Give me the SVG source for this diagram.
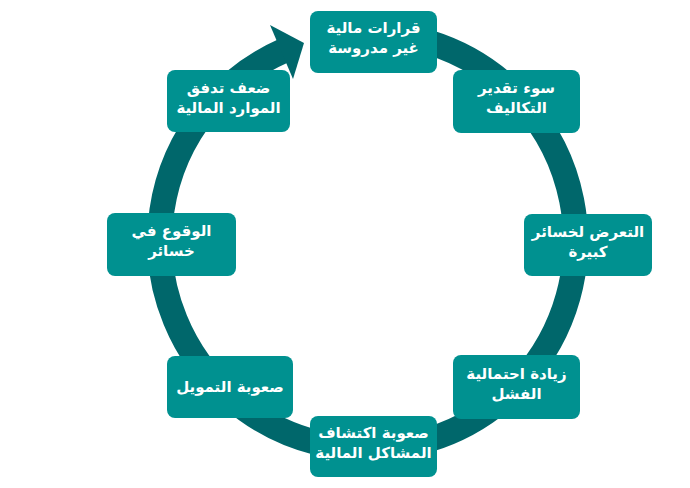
<svg xmlns="http://www.w3.org/2000/svg" width="690" height="488" viewBox="0 0 690 488">
<style>
.ring{fill:none;stroke:#00676B;stroke-width:25;}
.head{fill:#00676B;}
.box{fill:#009190;}
.t{fill:#fff;font-family:"DejaVu Sans","Liberation Sans",sans-serif;font-weight:bold;font-size:15px;text-anchor:middle;direction:rtl;}
</style>
<rect width="690" height="488" fill="#fff"/>
<g id="connectors">
<path class="ring" d="M 333 35.9 A 208 208 0 1 1 283 51"/>
<polygon class="head" points="270,25 304,43 293,79"/>
</g>
<g id="n1"><rect class="box" x="310" y="11" width="127" height="62" rx="8"/><text class="t" x="373.5" y="33">قرارات مالية</text><text class="t" x="373.5" y="53">غير مدروسة</text></g>
<g id="n2"><rect class="box" x="453" y="70" width="127" height="63" rx="8"/><text class="t" x="516.5" y="93">سوء تقدير</text><text class="t" x="516.5" y="113">التكاليف</text></g>
<g id="n3"><rect class="box" x="524" y="214" width="128" height="62" rx="8"/><text class="t" x="588" y="237">التعرض لخسائر</text><text class="t" x="588" y="257">كبيرة</text></g>
<g id="n4"><rect class="box" x="453" y="355" width="127" height="64" rx="8"/><text class="t" x="516.5" y="379">زيادة احتمالية</text><text class="t" x="516.5" y="399">الفشل</text></g>
<g id="n5"><rect class="box" x="310" y="416" width="127" height="61" rx="8"/><text class="t" x="373.5" y="438">صعوبة اكتشاف</text><text class="t" x="373.5" y="458">المشاكل المالية</text></g>
<g id="n6"><rect class="box" x="167" y="356" width="126" height="62" rx="8"/><text class="t" x="230" y="392">صعوبة التمويل</text></g>
<g id="n7"><rect class="box" x="107" y="213" width="129" height="63" rx="8"/><text class="t" x="171.5" y="236">الوقوع في</text><text class="t" x="171.5" y="256">خسائر</text></g>
<g id="n8"><rect class="box" x="167" y="70" width="123" height="62" rx="8"/><text class="t" x="228.5" y="93">ضعف تدفق</text><text class="t" x="228.5" y="113">الموارد المالية</text></g>
</svg>
